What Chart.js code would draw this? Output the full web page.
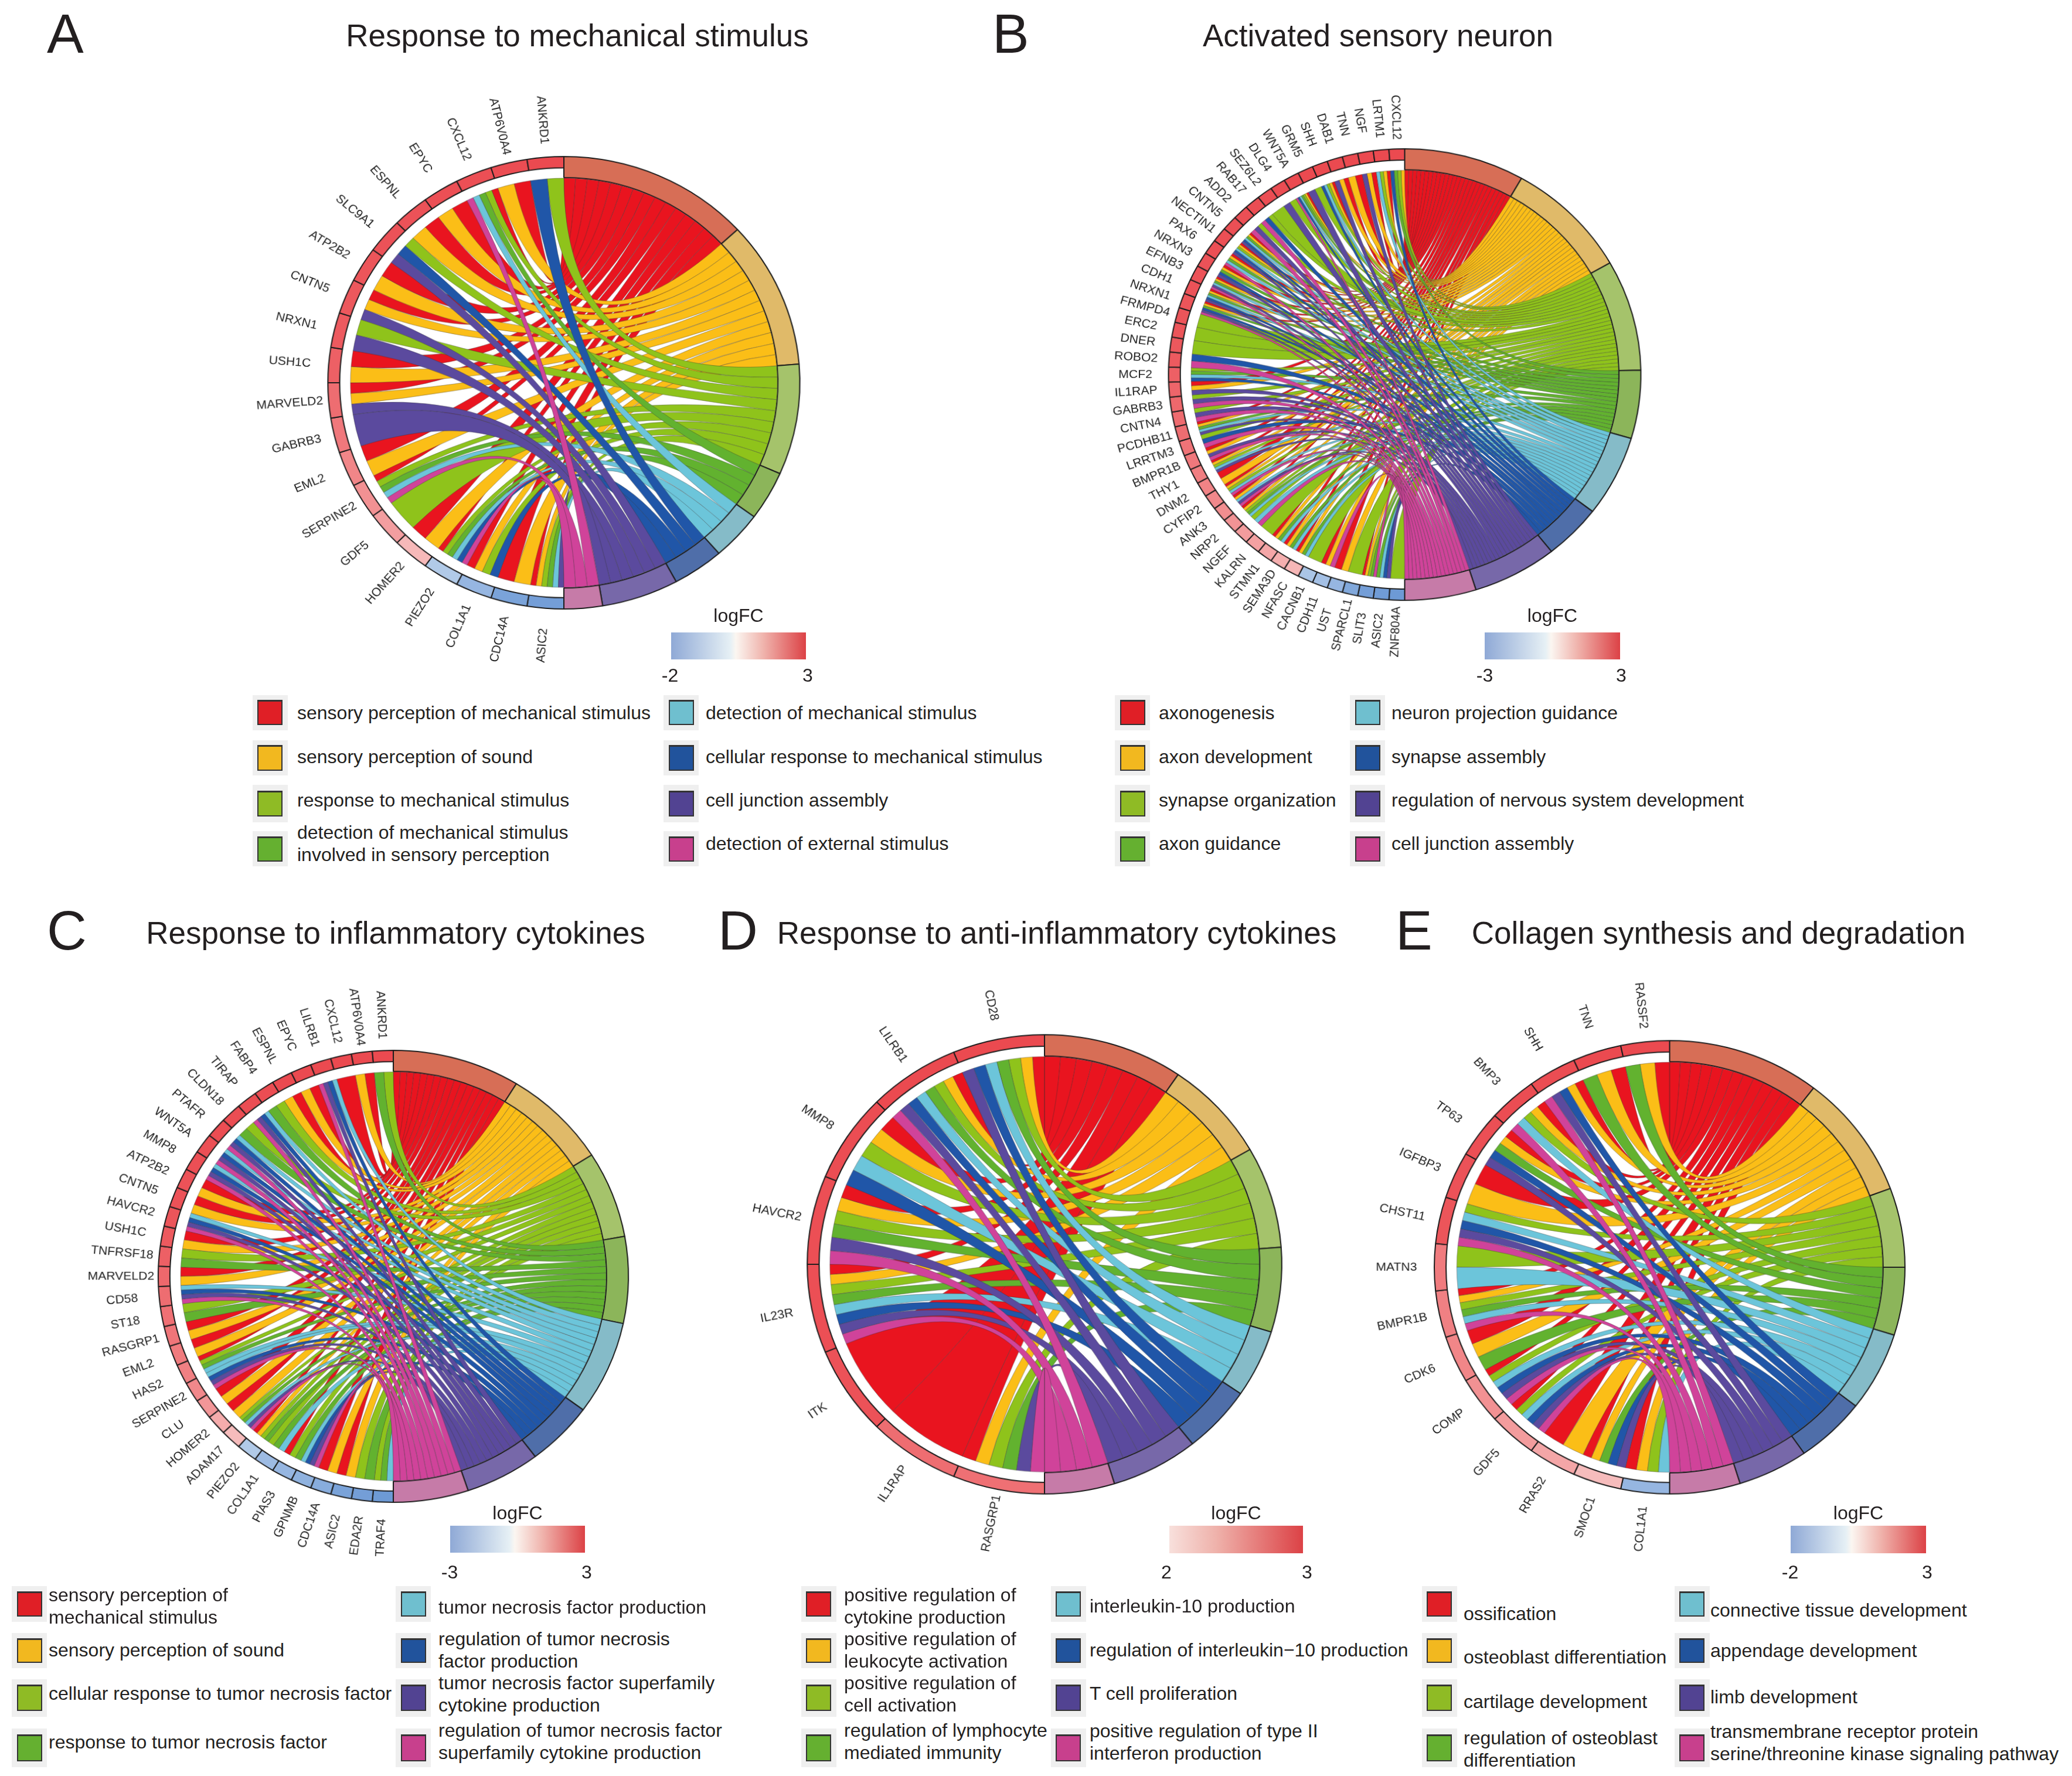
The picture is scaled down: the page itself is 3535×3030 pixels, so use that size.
<!DOCTYPE html>
<html>
<head>
<meta charset="utf-8">
<title>Chord plots</title>
<script src="https://cdn.jsdelivr.net/npm/chart.js@4"></script>
<style>
  html, body { margin: 0; padding: 0; background: #fff; }
  #page { position: relative; width: 3535px; height: 3030px; overflow: hidden; font-family: "Liberation Sans", Arial, sans-serif; color: #231f20; }
  #page canvas { position: absolute; }
  .txt { position: absolute; white-space: nowrap; line-height: 38px; font-size: 32px; }
  .title { position: absolute; white-space: nowrap; font-size: 53px; line-height: 60px; transform: translateX(-50%); }
  .letter { position: absolute; font-size: 94px; line-height: 100px; }
  .key { position: absolute; background: #efefef; }
  .swatch { position: absolute; box-sizing: border-box; border: 2px solid #333; border-top-width: 3px; }
  .bar { position: absolute; }
  .ctr { transform: translate(-50%, -50%); }
</style>
</head>
<body>
<div id="page"></div>
<script>
// chord colours, the same 8 in every panel
const ribbonColors = ["#E9141F", "#FBBE17", "#8FC31B", "#62B22F", "#6CC5DA", "#2056A8", "#5B4A9E", "#D0439A"];
const termRingColors = ["#D76E56", "#E0BA69", "#A5C36B", "#8CB55A", "#85BBC8", "#4F6EA9", "#7768A9", "#C67BA8"];
const keyColors = ["#E01F26", "#F2B81F", "#8FBB25", "#65B030", "#6FBFCF", "#21539C", "#524392", "#C8408D"];

// Panel A
const titleA = "Response to mechanical stimulus";
const termsA = ["sensory perception of mechanical stimulus", "sensory perception of sound", "response to mechanical stimulus", "detection of mechanical stimulus|involved in sensory perception", "detection of mechanical stimulus", "cellular response to mechanical stimulus", "cell junction assembly", "detection of external stimulus"];
const genesA = ["ANKRD1", "ATP6V0A4", "CXCL12", "EPYC", "ESPNL", "SLC9A1", "ATP2B2", "CNTN5", "NRXN1", "USH1C", "MARVELD2", "GABRB3", "EML2", "SERPINE2", "GDF5", "HOMER2", "PIEZO2", "COL1A1", "CDC14A", "ASIC2"];
const logfcA = [3, 2.95, 2.9, 2.9, 2.85, 2.85, 2.8, 2.75, 2.7, 2.6, 2.35, 2.15, 1.9, 1.7, 1.45, 0.95, -0.8, -1.2, -1.6, -1.7];
const linksA = [[2,5],[0,1],[0,2,3,4,7],[0,1],[0,1],[2,5,6],[0,1],[0,1,6],[2,6],[0,1],[0,1,6],[6],[0,1],[0,2,3,4,7],[2],[0,1],[0,2,3,4,5,7],[0,1,2,5],[0,1],[0,1,2,3,4,6]];
const ticksA = ["-2", "3"];

// Panel B
const titleB = "Activated sensory neuron";
const termsB = ["axonogenesis", "axon development", "synapse organization", "axon guidance", "neuron projection guidance", "synapse assembly", "regulation of nervous system development", "cell junction assembly"];
const genesB = ["CXCL12", "LRTM1", "NGF", "TNN", "DAB1", "SHH", "GRM5", "WNT5A", "DLG4", "SEZ6L2", "RAB17", "ADD2", "CNTN5", "NECTIN1", "PAX6", "NRXN3", "EFNB3", "CDH1", "NRXN1", "FRMPD4", "ERC2", "DNER", "ROBO2", "MCF2", "IL1RAP", "GABRB3", "CNTN4", "PCDHB11", "LRRTM3", "BMPR1B", "THY1", "DNM2", "CYFIP2", "ANK3", "NRP2", "NGEF", "KALRN", "STMN1", "SEMA3D", "NFASC", "CACNB1", "CDH11", "UST", "SPARCL1", "SLIT3", "ASIC2", "ZNF804A"];
const logfcB = [3, 3, 3, 3, 3, 3, 3, 3, 2.95, 2.95, 2.95, 2.9, 2.9, 2.9, 2.9, 2.85, 2.85, 2.85, 2.8, 2.8, 2.8, 2.75, 2.7, 2.6, 2.5, 2.45, 2.4, 2.35, 2.25, 2.15, 2.05, 1.95, 1.85, 1.75, 1.65, 1.5, 1.4, 1.3, 1.15, 1, -0.9, -1, -1.2, -1.5, -1.7, -1.75, -1.8];
const linksB = [[1,2,3,5],[0,1,2,4],[0,1,6],[0,1],[0,1,6],[0,1,2,4,5],[2,6],[0,1,2,3,4,5,7],[2,6],[2],[2,5,7],[2,6,7],[0,1,3,4,5,6],[0,1,2,4,5,6],[0,1,3,4,7],[0,1,3,5,6],[0,1,3,4,6,7],[0,1,3,4,5,6],[0,1,3,5,6,7],[2],[2],[2],[5,7],[2,3,4,5],[0,1,6],[2,6,7],[2,6,7],[0,1,3,4,6],[2,5,7],[0,1,6,7],[0,1,2,4,6],[0,1],[0,1,2,4,7],[0,1,4,6,7],[0,1,2,3,4],[2,4,7],[2],[0,1,3,4],[0,1,3,4],[0,1,3,4],[2],[0,1,7],[0,1],[2],[0,1,2,3,7],[3,4,5,6],[2]];
const ticksB = ["-3", "3"];

// Panel C
const titleC = "Response to inflammatory cytokines";
const termsC = ["sensory perception of|mechanical stimulus", "sensory perception of sound", "cellular response to tumor necrosis factor", "response to tumor necrosis factor", "tumor necrosis factor production", "regulation of tumor necrosis|factor production", "tumor necrosis factor superfamily|cytokine production", "regulation of tumor necrosis factor|superfamily cytokine production"];
const genesC = ["ANKRD1", "ATP6V0A4", "CXCL12", "LILRB1", "EPYC", "ESPNL", "FABP4", "TIRAP", "CLDN18", "PTAFR", "WNT5A", "MMP8", "ATP2B2", "CNTN5", "HAVCR2", "USH1C", "TNFRSF18", "MARVELD2", "CD58", "ST18", "RASGRP1", "EML2", "HAS2", "SERPINE2", "CLU", "HOMER2", "ADAM17", "PIEZO2", "COL1A1", "PIAS3", "GPNMB", "CDC14A", "ASIC2", "EDA2R", "TRAF4"];
const logfcC = [3, 3, 3, 3, 3, 3, 2.95, 2.95, 2.95, 2.95, 2.9, 2.9, 2.85, 2.85, 2.8, 2.7, 2.6, 2.45, 2.35, 2.3, 2.2, 2.1, 2, 1.85, 1.6, 1.2, 0.9, -0.8, -1.1, -1.2, -1.3, -1.4, -1.6, -1.7, -1.8];
const linksC = [[2,3],[0,1],[0],[4,5,6,7],[0,1],[0,1],[2,3],[4,5,6,7],[2,3],[4,5,6,7],[4,5,6,7],[4,5,6,7],[0,1],[0,1],[4,5,6,7],[0,1],[2,3],[0,1],[4,5,6,7],[2,3],[0,1],[0,1],[0,2,3,4],[4,5,6,7],[0,1],[0,1],[2,3,4,6,7],[0,1,2,3],[2,3,4],[0,2,3],[4,5,6,7],[0,1],[0,1],[2,3],[2,3,4]];
const ticksC = ["-3", "3"];

// Panel D
const titleD = "Response to anti-inflammatory cytokines";
const termsD = ["positive regulation of|cytokine production", "positive regulation of|leukocyte activation", "positive regulation of|cell activation", "regulation of lymphocyte|mediated immunity", "interleukin-10 production", "regulation of interleukin\u221210 production", "T cell proliferation", "positive regulation of type II|interferon production"];
const genesD = ["CD28", "LILRB1", "MMP8", "HAVCR2", "IL23R", "ITK", "IL1RAP", "RASGRP1"];
const logfcD = [3, 3, 2.95, 2.9, 2.9, 2.85, 2.35, 2.3];
const linksD = [[0,1,2,3,4,5,6],[0,1,2,3,4,5,6,7],[0,1,2,4,5],[0,1,2,3,6,7],[0,1,2,3,4,5,6,7],[0],[0],[0,1,2,3,6,7]];
const ticksD = ["2", "3"];

// Panel E
const titleE = "Collagen synthesis and degradation";
const termsE = ["ossification", "osteoblast differentiation", "cartilage development", "regulation of osteoblast|differentiation", "connective tissue development", "appendage development", "limb development", "transmembrane receptor protein|serine/threonine kinase signaling pathway"];
const genesE = ["RASSF2", "TNN", "SHH", "BMP3", "TP63", "IGFBP3", "CHST11", "MATN3", "BMPR1B", "CDK6", "COMP", "GDF5", "RRAS2", "SMOC1", "COL1A1"];
const logfcE = [3, 3, 2.95, 2.95, 2.9, 2.85, 2.8, 2.1, 2, 1.9, 1.7, 1.5, 1.3, 0.9, -1.2];
const linksE = [[0,1,3],[0,1,3],[0,1,5,6,7],[0,1,2,4,7],[0,1,3,5,6],[0,1],[2,4,5,6,7],[2,4],[0,1,2,3,4,7],[0,1,3],[0,2,4,5,6,7],[0,2,4,5,6,7],[0,1],[0,1,3,5,6],[0,1,2,4]];
const ticksE = ["-2", "3"];

// placement on the page
const canvasSize = 1100;
const baseRadius = 400;
const geneInner = 0.95;
const chordCut = 90.7;

const rowsTop = { key: [[1186,60],[1263,60],[1339,64],[1418,60]], swatch: [[1194,43],[1271,44],[1349,44],[1427,43]] };
const rowsBottom = { key: [[2706,61],[2786,60],[2865,64],[2949,66]], swatch: [[2715,43],[2795,42],[2874,45],[2959,46]] };

const panels = [
  { letter: "A", lx: 80, ly: 8, title: titleA, tx: 985, ty: 61, terms: termsA, genes: genesA, logfc: logfcA, links: linksA, cx: 962, cy: 653, rx: 403.5, ry: 387, labelR: 1.165,
    rows: rowsTop, cols: [{ key: 431, swatch: 439, text: 507 }, { key: 1132, swatch: 1141, text: 1204 }],
    textY: [1216, 1291, 1365, 1439, 1216, 1291, 1365, 1439],
    bar: { x: 1145, w: 230, y: 1079, h: 46, labelY: 1050, tickY: 1152, tx: [1143, 1378], ticks: ticksA, stops: "#8fa9d6 0%, #e6f0f5 44%, #fbf6f1 48%, #f0b5ae 68%, #dc4246 100%" } },
  { letter: "B", lx: 1693, ly: 8, title: titleB, tx: 2351, ty: 61, terms: termsB, genes: genesB, logfc: logfcB, links: linksB, cx: 2396, cy: 639, rx: 404, ry: 386, labelR: 1.14,
    rows: rowsTop, cols: [{ key: 1902, swatch: 1911, text: 1977 }, { key: 2303, swatch: 2312, text: 2374 }],
    textY: [1216, 1291, 1365, 1439, 1216, 1291, 1365, 1439],
    bar: { x: 2533, w: 231, y: 1079, h: 46, labelY: 1050, tickY: 1152, tx: [2533, 2766], ticks: ticksB, stops: "#8fa9d6 0%, #e6f0f5 45%, #fbf6f1 49%, #f0b5ae 68%, #dc4246 100%" } },
  { letter: "C", lx: 80, ly: 1538, title: titleC, tx: 675, ty: 1592, terms: termsC, genes: genesC, logfc: logfcC, links: linksC, cx: 671, cy: 2177.5, rx: 402, ry: 386.5, labelR: 1.158,
    rows: rowsBottom, cols: [{ key: 20, swatch: 29, text: 83 }, { key: 675, swatch: 684, text: 748 }],
    textY: [2740, 2815, 2889, 2972, 2742, 2815, 2890, 2971],
    bar: { x: 768, w: 230, y: 2603, h: 46, labelY: 2581, tickY: 2682, tx: [767, 1001], ticks: ticksC, stops: "#8fa9d6 0%, #e6f0f5 44%, #fbf6f1 48%, #f0b5ae 68%, #dc4246 100%" } },
  { letter: "D", lx: 1225, ly: 1538, title: titleD, tx: 1803, ty: 1592, terms: termsD, genes: genesD, logfc: logfcD, links: linksD, cx: 1782, cy: 2157, rx: 406, ry: 393, labelR: 1.15,
    rows: rowsBottom, cols: [{ key: 1367, swatch: 1375, text: 1440 }, { key: 1793, swatch: 1801, text: 1859 }],
    textY: [2740, 2815, 2890, 2971, 2740, 2815, 2889, 2972],
    bar: { x: 1995, w: 228, y: 2603, h: 47, labelY: 2581, tickY: 2682, tx: [1990, 2230], ticks: ticksD, stops: "#f8e0dc 0%, #efb2ab 35%, #dc4246 100%" } },
  { letter: "E", lx: 2381, ly: 1538, title: titleE, tx: 2932, ty: 1592, terms: termsE, genes: genesE, logfc: logfcE, links: linksE, cx: 2848.6, cy: 2162, rx: 402.6, ry: 387.5, labelR: 1.161,
    rows: rowsBottom, cols: [{ key: 2426, swatch: 2434, text: 2497 }, { key: 2857, swatch: 2865, text: 2918 }],
    textY: [2753, 2827, 2903, 2984, 2747, 2816, 2895, 2973],
    bar: { x: 3055, w: 231, y: 2603, h: 47, labelY: 2581, tickY: 2682, tx: [3054, 3288], ticks: ticksE, stops: "#8fa9d6 0%, #e6f0f5 41%, #fbf6f1 45%, #f0b5ae 66%, #dc4246 100%" } },
];

function mix(a, b, t) {
  const pa = [1, 3, 5].map((i) => parseInt(a.substr(i, 2), 16));
  const pb = [1, 3, 5].map((i) => parseInt(b.substr(i, 2), 16));
  return "rgb(" + pa.map((v, i) => Math.round(v + (pb[i] - v) * t)).join(",") + ")";
}

// same ramp as the colour bars
function logfcColor(v) {
  if (v >= 0) return mix("#fbedea", "#eb4a50", Math.min(1, v / 3));
  return mix("#e8f0f8", "#5f90d1", Math.min(1, -v / 2));
}

// ribbons and gene names, placed from the arcs the doughnut just laid out
const chordPlugin = {
  id: "goChord",
  afterDatasetsUpdate(chart) {
    const nTerms = chart.options.plugins.goChord.terms.length;
    chart.getDatasetMeta(0).data.slice(nTerms).forEach((arc) => {
      arc.innerRadius = arc.outerRadius * geneInner;
    });
  },
  afterDatasetsDraw(chart) {
    const { terms, genes, links, labelR } = chart.options.plugins.goChord;
    const arcs = chart.getDatasetMeta(0).data;
    const values = chart.data.datasets[0].data;
    const nTerms = terms.length;
    const ctx = chart.ctx;
    const cx = arcs[0].x, cy = arcs[0].y;
    const r = arcs[0].innerRadius - 1;
    const nextSlot = terms.map(() => 0);

    // gene list runs top to bottom, the doughnut runs bottom to top
    const geneArc = (g) => arcs[nTerms + genes.length - 1 - g];

    const ribbons = terms.map(() => []);
    links.forEach((list, g) => {
      const arc = geneArc(g);
      const w = (arc.endAngle - arc.startAngle) / list.length;
      list.forEach((t, k) => {
        const a2 = arc.endAngle - k * w;
        const tArc = arcs[t];
        const tw = (tArc.endAngle - tArc.startAngle) / values[t];
        const b1 = tArc.startAngle + nextSlot[t] * tw;
        nextSlot[t]++;
        ribbons[t].push({ a1: a2 - w, a2: a2, b1: b1, b2: b1 + tw });
      });
    });

    ctx.save();
    ctx.lineWidth = 1;
    ctx.strokeStyle = "rgba(50,50,50,0.42)";
    ribbons.forEach((list, t) => {
      ctx.fillStyle = ribbonColors[t];
      list.forEach((s) => {
        ctx.beginPath();
        ctx.arc(cx, cy, r, s.a1, s.a2);
        ctx.quadraticCurveTo(cx, cy, cx + r * Math.cos(s.b1), cy + r * Math.sin(s.b1));
        ctx.arc(cx, cy, r, s.b1, s.b2);
        ctx.quadraticCurveTo(cx, cy, cx + r * Math.cos(s.a1), cy + r * Math.sin(s.a1));
        ctx.closePath();
        ctx.fill();
        ctx.stroke();
      });
    });

    ctx.fillStyle = "#222";
    ctx.font = '21px "Liberation Sans", Arial, sans-serif';
    ctx.textAlign = "center";
    ctx.textBaseline = "middle";
    genes.forEach((name, g) => {
      const arc = geneArc(g);
      const mid = (arc.startAngle + arc.endAngle) / 2;
      const lr = arc.outerRadius * labelR;
      ctx.save();
      ctx.translate(cx + lr * Math.cos(mid), cy + lr * Math.sin(mid));
      ctx.rotate(mid + Math.PI);
      ctx.fillText(name, 0, 0);
      ctx.restore();
    });
    ctx.restore();
  },
};

function addDiv(cls, left, top, text) {
  const d = document.createElement("div");
  d.className = cls;
  d.style.left = left + "px";
  d.style.top = top + "px";
  if (text) d.textContent = text;
  document.getElementById("page").appendChild(d);
  return d;
}

function createPanel(p) {
  const sx = p.rx / baseRadius, sy = p.ry / baseRadius;
  const canvas = document.createElement("canvas");
  canvas.width = canvasSize;
  canvas.height = canvasSize;
  // the figure is slightly stretched, so the square canvas is too
  canvas.style.width = canvasSize * sx + "px";
  canvas.style.height = canvasSize * sy + "px";
  canvas.style.left = p.cx - canvasSize * sx / 2 + "px";
  canvas.style.top = p.cy - canvasSize * sy / 2 + "px";
  document.getElementById("page").appendChild(canvas);

  const termCounts = p.terms.map((_, t) => p.links.filter((list) => list.includes(t)).length);
  const total = termCounts.reduce((a, b) => a + b, 0);
  const geneShare = total / p.genes.length;
  const genesUp = [...p.genes].reverse();
  const logfcUp = [...p.logfc].reverse();

  new Chart(canvas, {
    type: "doughnut",
    plugins: [chordPlugin],
    data: {
      labels: p.terms.concat(genesUp),
      datasets: [{
        data: termCounts.concat(genesUp.map(() => geneShare)),
        backgroundColor: termRingColors.concat(logfcUp.map(logfcColor)),
        borderColor: "#1d1d1d",
        borderWidth: 2,
      }],
    },
    options: {
      responsive: false,
      animation: false,
      events: [],
      cutout: chordCut + "%",
      layout: { padding: canvasSize / 2 - baseRadius },
      plugins: {
        legend: { display: false },
        tooltip: { enabled: false },
        goChord: { terms: p.terms, genes: p.genes, links: p.links, labelR: p.labelR },
      },
    },
  });

  addDiv("letter", p.lx, p.ly, p.letter);
  addDiv("title", p.tx, p.ty - 30, p.title);

  // term legend, two columns of four
  p.terms.forEach((term, i) => {
    const col = p.cols[i < 4 ? 0 : 1];
    const row = i % 4;
    const key = addDiv("key", col.key, p.rows.key[row][0]);
    key.style.width = "60px";
    key.style.height = p.rows.key[row][1] + "px";
    const sw = addDiv("swatch", col.swatch, p.rows.swatch[row][0]);
    sw.style.width = "43px";
    sw.style.height = p.rows.swatch[row][1] + "px";
    sw.style.background = keyColors[i];
    const lines = term.split("|");
    lines.forEach((line, j) => {
      addDiv("txt", col.text, p.textY[i] - 19 * lines.length + 38 * j, line);
    });
  });

  // logFC colour bar
  const b = p.bar;
  const bar = addDiv("bar", b.x, b.y);
  bar.style.width = b.w + "px";
  bar.style.height = b.h + "px";
  bar.style.background = "linear-gradient(90deg, " + b.stops + ")";
  addDiv("txt ctr", b.x + b.w / 2, b.labelY, "logFC");
  b.ticks.forEach((tick, i) => addDiv("txt ctr", b.tx[i], b.tickY, tick));
}

panels.forEach(createPanel);
</script>
</body>
</html>
